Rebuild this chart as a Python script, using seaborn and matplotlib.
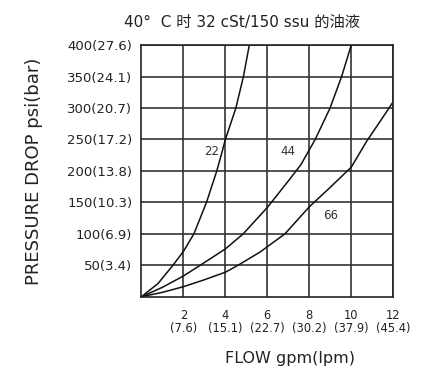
import pandas as pd
import matplotlib
matplotlib.use("Agg")
import matplotlib.pyplot as plt
import seaborn as sns

# flow (gpm) / pressure drop (psi), one set per curve
flow_22 = [0, 0.79, 1.5, 2.0, 2.5, 3.1, 3.59, 3.8, 4.0, 4.5, 4.86, 5.14]
psi_22 = [0, 21, 50, 72, 100, 150, 200, 225, 250, 300, 350, 400]

flow_44 = [0, 1.0, 2.0, 2.8, 4.0, 4.85, 6.0, 7.0, 7.6, 8.28, 8.99, 9.54, 10.0]
psi_44 = [0, 15, 33, 50, 76, 100, 142, 184, 210, 250, 300, 350, 400]

flow_66 = [0, 1.0, 2.0, 3.0, 4.0, 4.6, 5.65, 6.84, 8.0, 9.0, 10.0, 10.75, 11.4, 12.0]
psi_66 = [0, 7, 16, 27, 39, 50, 71, 100, 143, 174, 206, 248, 280, 310]

curve_names = ["22", "44", "66"]
label_pos = {"22": (3.35, 231), "44": (7.0, 231), "66": (9.02, 129)}

x_ticks = [2, 4, 6, 8, 10, 12]
x_tick_labels = ["2\n(7.6)", "4\n(15.1)", "6\n(22.7)", "8\n(30.2)", "10\n(37.9)", "12\n(45.4)"]
y_ticks = [50, 100, 150, 200, 250, 300, 350, 400]
y_tick_labels = ["50(3.4)", "100(6.9)", "150(10.3)", "200(13.8)", "250(17.2)",
                 "300(20.7)", "350(24.1)", "400(27.6)"]

title = "40°  C 时 32 cSt/150 ssu 的油液"
x_label = "FLOW gpm(lpm)"
y_label = "PRESSURE DROP psi(bar)"

sns.set_style("white")
plt.rcParams["font.family"] = ["DejaVu Sans", "Noto Sans CJK SC"]

frames = []
for name, fl, ps in zip(curve_names, [flow_22, flow_44, flow_66], [psi_22, psi_44, psi_66]):
    frames.append(pd.DataFrame({"flow": fl, "psi": ps, "curve": name}))
df = pd.concat(frames, ignore_index=True)

fig = plt.figure(figsize=(4.21, 3.70), dpi=100)
ax = fig.add_axes([0.336, 0.198, 0.598, 0.680])

sns.lineplot(data=df, x="flow", y="psi", hue="curve", sort=False,
             palette=["#111111"] * 3, linewidth=1.1, legend=False, ax=ax)

for name, (lx, ly) in label_pos.items():
    ax.text(lx, ly, name, fontsize=8.5, color="#333333", ha="center", va="center")

ax.set_xlim(0, 12)
ax.set_ylim(0, 400)
ax.set_xticks(x_ticks)
ax.set_xticklabels(x_tick_labels, fontsize=8.3, color="#222222", linespacing=1.0)
ax.set_yticks(y_ticks)
ax.set_yticklabels(y_tick_labels, fontsize=9.5, color="#222222")
ax.tick_params(axis="y", length=0, pad=6.5)
ax.tick_params(axis="x", length=0, pad=9)
ax.grid(True, color="#333333", linewidth=1.2)
for sp in ax.spines.values():
    sp.set_color("#222222")
    sp.set_linewidth(1.2)

ax.set_xlabel(x_label, fontsize=11.5, color="#222222")
ax.xaxis.set_label_coords(0.59, -0.215)
ax.set_ylabel(y_label, fontsize=13, color="#222222")
ax.yaxis.set_label_coords(-0.39, 0.5)
fig.text(0.575, 0.94, title, fontsize=11, ha="center", va="center", color="#222222")

fig.savefig("out.png", dpi=100)
